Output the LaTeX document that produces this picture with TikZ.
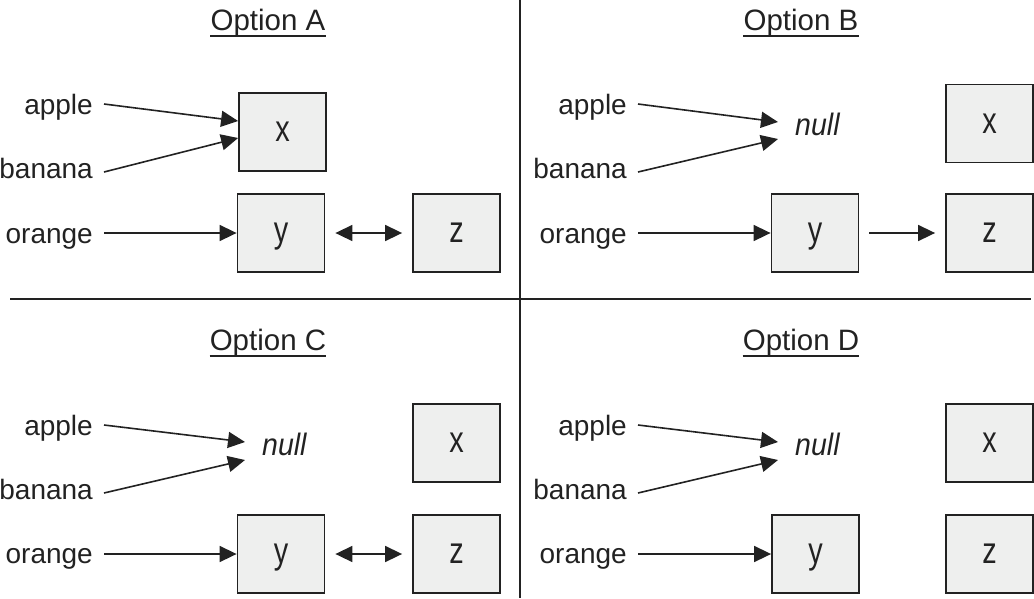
\documentclass[tikz,border=0pt]{standalone}
\usepackage{fontspec}
\setmainfont{Liberation Sans}
\newfontfamily\boxletterfont[FakeStretch=0.78]{Liberation Sans}
\newfontfamily\nulltextfont[FakeStretch=0.92]{Liberation Sans}
\usetikzlibrary{arrows.meta}
\definecolor{boxfill}{HTML}{EEEFEE}
\definecolor{ink}{HTML}{222222}
\begin{document}
\begin{tikzpicture}[x=1pt,y=-1pt,
  box/.style={draw=ink,fill=boxfill,line width=1.8pt,minimum width=87pt,minimum height=78pt,inner sep=0pt,text depth=0pt,text=ink,font=\boxletterfont\fontsize{37}{40}\selectfont},
  lbl/.style={anchor=base east,inner sep=0pt,text=ink,font=\fontsize{28}{32}\selectfont},
  ttl/.style={anchor=base,inner sep=0pt,text=ink,font=\fontsize{29.5}{34}\selectfont},
  nul/.style={anchor=base west,inner sep=0pt,text=ink,font=\nulltextfont\fontsize{31}{35}\selectfont\itshape},
  arr/.style={draw=ink,line width=1.6pt,-{Triangle[length=17pt,width=16pt]}},
  arrtwo/.style={draw=ink,line width=1.6pt,{Triangle[length=17pt,width=16pt]}-{Triangle[length=17pt,width=16pt]},shorten <=10pt,shorten >=10pt},
  rulel/.style={draw=ink,line width=1.8pt},
  uline/.style={draw=ink,line width=1.4pt}]
\useasboundingbox (0,0) rectangle (1034,598);

% dividers
\coordinate (hl) at (10,299);
\coordinate (hr) at (1031,299);
\coordinate (vt) at (520,0);
\coordinate (vb) at (520,598);
\draw[rulel] (hl) -- (hr);
\draw[rulel] (vt) -- (vb);

% titles
\node[ttl] (tA) at (268,30) {Option A};
\node[ttl] (tB) at (801,30) {Option B};
\node[ttl] (tC) at (268,350) {Option C};
\node[ttl] (tD) at (801,350) {Option D};
\foreach \t in {tA,tB,tC,tD}{
  \draw[uline] ([yshift=-6pt]\t.base west) -- ([yshift=-6pt]\t.base east);
}

% ---------- Option A ----------
\node[lbl] (apA) at (93,114) {apple};
\node[lbl] (baA) at (93,178) {banana};
\node[lbl] (orA) at (93,243) {orange};
\node[box] (xA) at (282.5,132) {x};
\node[box] (yA) at (281,233) {y};
\node[box] (zA) at (456.5,233) {z};
\draw[arr] ([xshift=11pt,yshift=10pt]apA.base east) -- ([yshift=11pt]xA.west);
\draw[arr] ([xshift=11pt,yshift=6pt]baA.base east) -- ([yshift=-6pt]xA.west);
\draw[arr] ([xshift=11pt,yshift=10pt]orA.base east) -- (yA.west);
\draw[arrtwo] (yA.east) -- (zA.west);

% ---------- Option B ----------
\node[lbl] (apB) at (627,114) {apple};
\node[lbl] (baB) at (627,178) {banana};
\node[lbl] (orB) at (627,243) {orange};
\node[nul] (nB) at (795,135) {null};
\node[box] (xB) at (989.5,123.5) {x};
\node[box] (yB) at (815,233) {y};
\node[box] (zB) at (989.5,233) {z};
\draw[arr] ([xshift=11pt,yshift=10pt]apB.base east) -- ([xshift=-17pt,yshift=13pt]nB.base west);
\draw[arr] ([xshift=11pt,yshift=6pt]baB.base east) -- ([xshift=-17pt,yshift=-4pt]nB.base west);
\draw[arr] ([xshift=11pt,yshift=10pt]orB.base east) -- (yB.west);
\draw[arr,shorten <=10pt,shorten >=10pt] (yB.east) -- (zB.west);

% ---------- Option C ----------
\node[lbl] (apC) at (93,435) {apple};
\node[lbl] (baC) at (93,499) {banana};
\node[lbl] (orC) at (93,563) {orange};
\node[nul] (nC) at (262,455) {null};
\node[box] (xC) at (456.5,443) {x};
\node[box] (yC) at (281,554) {y};
\node[box] (zC) at (456.5,554) {z};
\draw[arr] ([xshift=11pt,yshift=10pt]apC.base east) -- ([xshift=-17pt,yshift=13pt]nC.base west);
\draw[arr] ([xshift=11pt,yshift=6pt]baC.base east) -- ([xshift=-17pt,yshift=-5pt]nC.base west);
\draw[arr] ([xshift=11pt,yshift=9pt]orC.base east) -- (yC.west);
\draw[arrtwo] (yC.east) -- (zC.west);

% ---------- Option D ----------
\node[lbl] (apD) at (627,435) {apple};
\node[lbl] (baD) at (627,499) {banana};
\node[lbl] (orD) at (627,563) {orange};
\node[nul] (nD) at (795,455) {null};
\node[box] (xD) at (989.5,443) {x};
\node[box] (yD) at (815.5,554) {y};
\node[box] (zD) at (989.5,554) {z};
\draw[arr] ([xshift=11pt,yshift=10pt]apD.base east) -- ([xshift=-17pt,yshift=13pt]nD.base west);
\draw[arr] ([xshift=11pt,yshift=6pt]baD.base east) -- ([xshift=-17pt,yshift=-5pt]nD.base west);
\draw[arr] ([xshift=11pt,yshift=9pt]orD.base east) -- (yD.west);
\end{tikzpicture}
\end{document}
